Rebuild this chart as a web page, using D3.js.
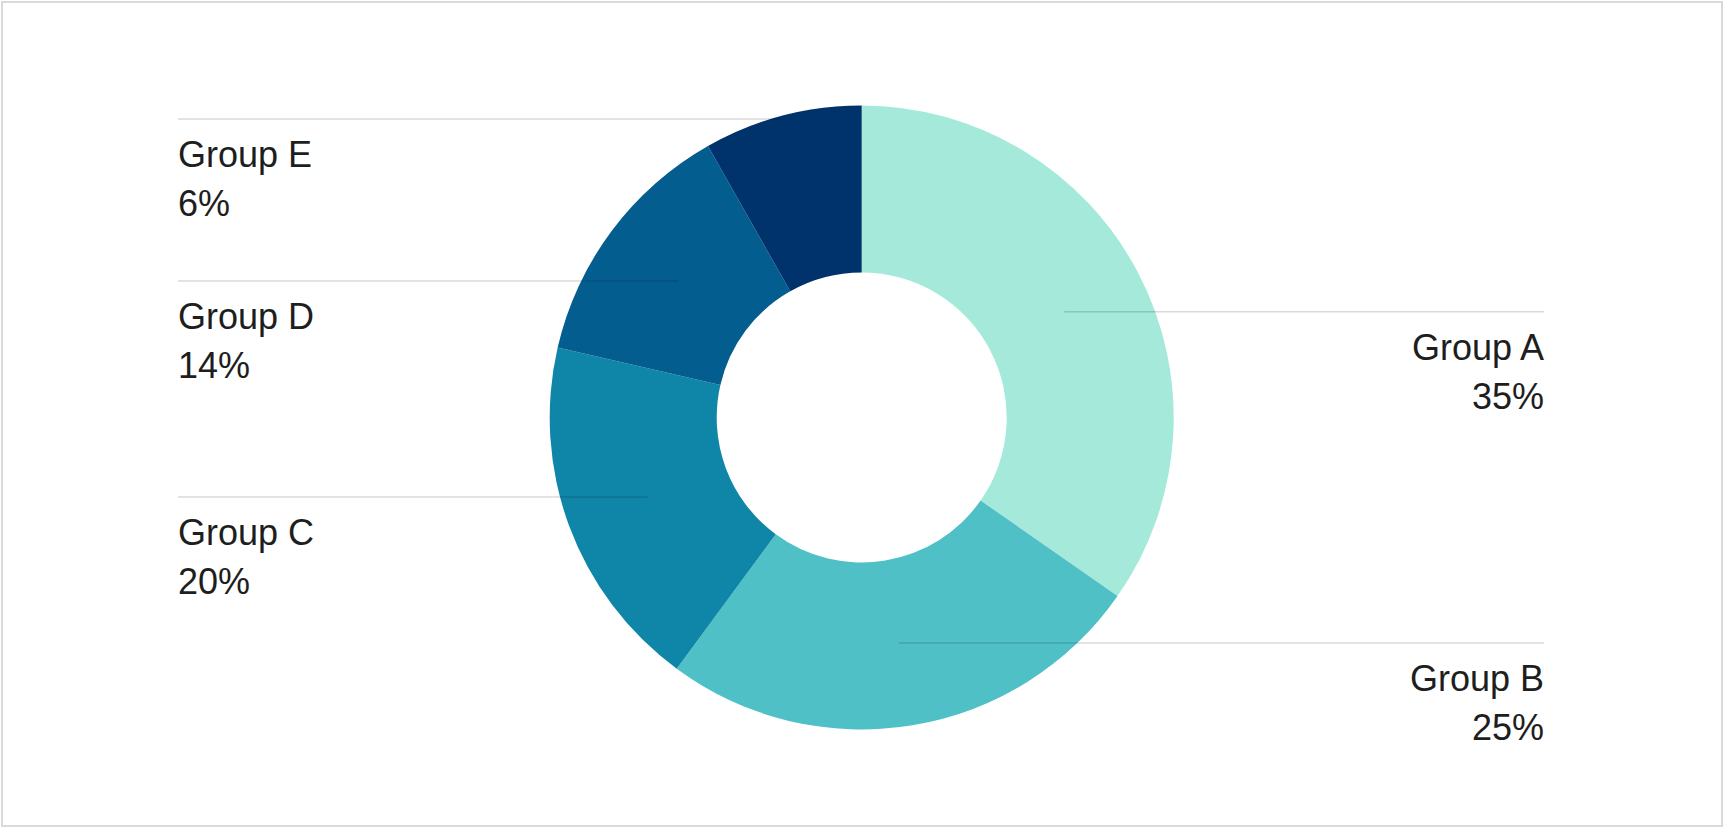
<!DOCTYPE html>
<html>
<head>
<meta charset="utf-8">
<script src="https://cdn.jsdelivr.net/npm/d3@7"></script>
<style>
  html, body { margin: 0; padding: 0; background: #fff; }
  svg { display: block; }
  text { font-family: "Helvetica Neue", Helvetica, "Liberation Sans", Arial, sans-serif; }
</style>
</head>
<body>
<div id="chart"></div>
<script>
const groups = ['Group A', 'Group B', 'Group C', 'Group D', 'Group E']
const shares = [34.7, 25.4, 18.5, 13.2, 8.2]
// the percentages printed next to each slice
const shareLabels = ['35%', '25%', '20%', '14%', '6%']
const colors = ['#a5e9da', '#4ec0c6', '#0f86a8', '#045d8f', '#00326b']

const width = 1724
const height = 828
const cx = 861.7
const cy = 417.5
const outerR = 312
const innerR = 145
const midR = (outerR + innerR) / 2
const leftX = 178
const rightX = 1544
const minGap = 162

let data = groups.map((g, i) => ({ name: g, value: shares[i], label: shareLabels[i], color: colors[i] }))

let svg = d3.select('#chart').append('svg')
  .attr('width', width)
  .attr('height', height)

svg.append('rect')
  .attr('x', 2).attr('y', 2)
  .attr('width', width - 4).attr('height', height - 4)
  .attr('fill', '#fff')
  .attr('stroke', '#d9d9d9')
  .attr('stroke-width', 2)

let pie = d3.pie().sort(null).value(d => d.value)
let arcs = pie(data)

let arc = d3.arc().innerRadius(innerR).outerRadius(outerR)

let g = svg.append('g').attr('transform', `translate(${cx},${cy})`)

g.selectAll('path')
  .data(arcs)
  .join('path')
    .attr('d', arc)
    .attr('fill', d => d.data.color)

// label layout: start at slice centroid, push apart from the bottom up
arcs.forEach(d => {
  let mid = (d.startAngle + d.endAngle) / 2
  d.side = mid > Math.PI ? -1 : 1
  d.ly = arc.centroid(d)[1]
})

;[-1, 1].forEach(side => {
  let list = arcs.filter(d => d.side === side).sort((a, b) => b.ly - a.ly)
  for (let i = 1; i < list.length; i++) {
    list[i].ly = Math.min(list[i].ly, list[i - 1].ly - minGap)
  }
})

arcs.forEach(d => {
  let dy = d.ly
  let r = Math.abs(dy) < midR ? midR : outerR - 3
  d.lx = d.side * Math.sqrt(Math.max(r * r - dy * dy, 0))
})

let labels = svg.append('g')
  .selectAll('g')
  .data(arcs)
  .join('g')
    .attr('transform', d => `translate(0,${cy + d.ly})`)

labels.append('line')
  .attr('x1', d => d.side < 0 ? leftX : cx + d.lx)
  .attr('x2', d => d.side < 0 ? cx + d.lx : rightX)
  .attr('y1', 0)
  .attr('y2', 0)
  .attr('stroke', '#000')
  .attr('stroke-opacity', 0.15)
  .attr('stroke-width', 1.5)

labels.append('text')
  .attr('x', d => d.side < 0 ? leftX : rightX)
  .attr('y', 48.5)
  .attr('text-anchor', d => d.side < 0 ? 'start' : 'end')
  .attr('font-size', 36)
  .attr('fill', '#1e1e1e')
  .text(d => d.data.name)

labels.append('text')
  .attr('x', d => d.side < 0 ? leftX : rightX)
  .attr('y', 97.5)
  .attr('text-anchor', d => d.side < 0 ? 'start' : 'end')
  .attr('font-size', 36)
  .attr('fill', '#1e1e1e')
  .text(d => d.data.label)
</script>
</body>
</html>
